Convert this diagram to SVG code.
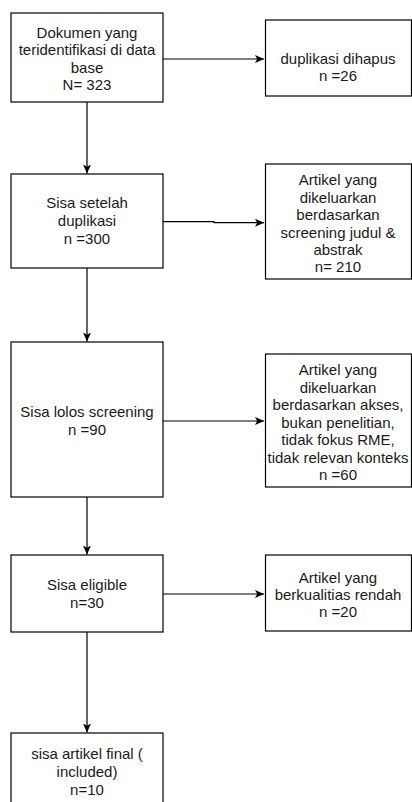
<svg xmlns="http://www.w3.org/2000/svg" width="412" height="802" viewBox="0 0 412 802">
<style>
.box{fill:#fff;stroke:#000;stroke-width:1.2}
.t{font-family:"Liberation Sans",Arial,sans-serif;font-size:15px;fill:#1a1a1a;text-anchor:middle}
.c{fill:none;stroke:#000;stroke-width:1.2}
</style>
<defs>
<marker id="ah" markerUnits="userSpaceOnUse" markerWidth="10" markerHeight="10" refX="9" refY="4" orient="auto">
<path d="M0,0 L9,4 L0,8 L2.2,4 Z" fill="#000"/>
</marker>
</defs>
<rect width="412" height="802" fill="#fff"/>
<g id="connectors">
<line class="c" x1="163" y1="59" x2="264" y2="59" marker-end="url(#ah)"/>
<polyline class="c" points="163,221.7 214,221.7 214,222.7 264,222.7" marker-end="url(#ah)"/>
<line class="c" x1="163" y1="421" x2="264" y2="421" marker-end="url(#ah)"/>
<line class="c" x1="163" y1="594" x2="264" y2="594" marker-end="url(#ah)"/>
<line class="c" x1="87" y1="102" x2="87" y2="173.5" marker-end="url(#ah)"/>
<line class="c" x1="87" y1="268" x2="87" y2="341.5" marker-end="url(#ah)"/>
<line class="c" x1="87" y1="497" x2="87" y2="554.5" marker-end="url(#ah)"/>
<line class="c" x1="87" y1="632" x2="87" y2="732.5" marker-end="url(#ah)"/>
</g>
<g id="n1">
<rect class="box" x="11" y="13" width="152" height="89"/>
<text class="t" x="87" y="38">Dokumen yang</text>
<text class="t" x="87" y="55">teridentifikasi di data</text>
<text class="t" x="87" y="73">base</text>
<text class="t" x="87" y="90">N= 323</text>
</g>
<g id="n2">
<rect class="box" x="265.5" y="20" width="146" height="76"/>
<text class="t" x="338" y="64">duplikasi dihapus</text>
<text class="t" x="338" y="81">n =26</text>
</g>
<g id="n3">
<rect class="box" x="11" y="174" width="152" height="94"/>
<text class="t" x="87" y="208">Sisa setelah</text>
<text class="t" x="87" y="226">duplikasi</text>
<text class="t" x="87" y="244">n =300</text>
</g>
<g id="n4">
<rect class="box" x="265.5" y="164" width="146" height="115"/>
<text class="t" x="338" y="185">Artikel yang</text>
<text class="t" x="338" y="203">dikeluarkan</text>
<text class="t" x="338" y="220">berdasarkan</text>
<text class="t" x="338" y="238">screening judul &amp;</text>
<text class="t" x="338" y="255">abstrak</text>
<text class="t" x="338" y="272">n= 210</text>
</g>
<g id="n5">
<rect class="box" x="11" y="342" width="152" height="155"/>
<text class="t" x="87" y="417">Sisa lolos screening</text>
<text class="t" x="87" y="435">n =90</text>
</g>
<g id="n6">
<rect class="box" x="265.5" y="354" width="146" height="133"/>
<text class="t" x="338" y="375">Artikel yang</text>
<text class="t" x="338" y="392.5">dikeluarkan</text>
<text class="t" x="338" y="410">berdasarkan akses,</text>
<text class="t" x="338" y="427.5">bukan penelitian,</text>
<text class="t" x="338" y="445">tidak fokus RME,</text>
<text class="t" x="338" y="462.5">tidak relevan konteks</text>
<text class="t" x="338" y="480">n =60</text>
</g>
<g id="n7">
<rect class="box" x="11" y="555" width="152" height="77"/>
<text class="t" x="87" y="590">Sisa eligible</text>
<text class="t" x="87" y="608">n=30</text>
</g>
<g id="n8">
<rect class="box" x="265.5" y="555" width="146" height="76"/>
<text class="t" x="338" y="583">Artikel yang</text>
<text class="t" x="338" y="600">berkualitias rendah</text>
<text class="t" x="338" y="617">n =20</text>
</g>
<g id="n9">
<rect class="box" x="11" y="733" width="152" height="80"/>
<text class="t" x="87" y="759">sisa artikel final (</text>
<text class="t" x="87" y="777">included)</text>
<text class="t" x="87" y="795">n=10</text>
</g>
</svg>
